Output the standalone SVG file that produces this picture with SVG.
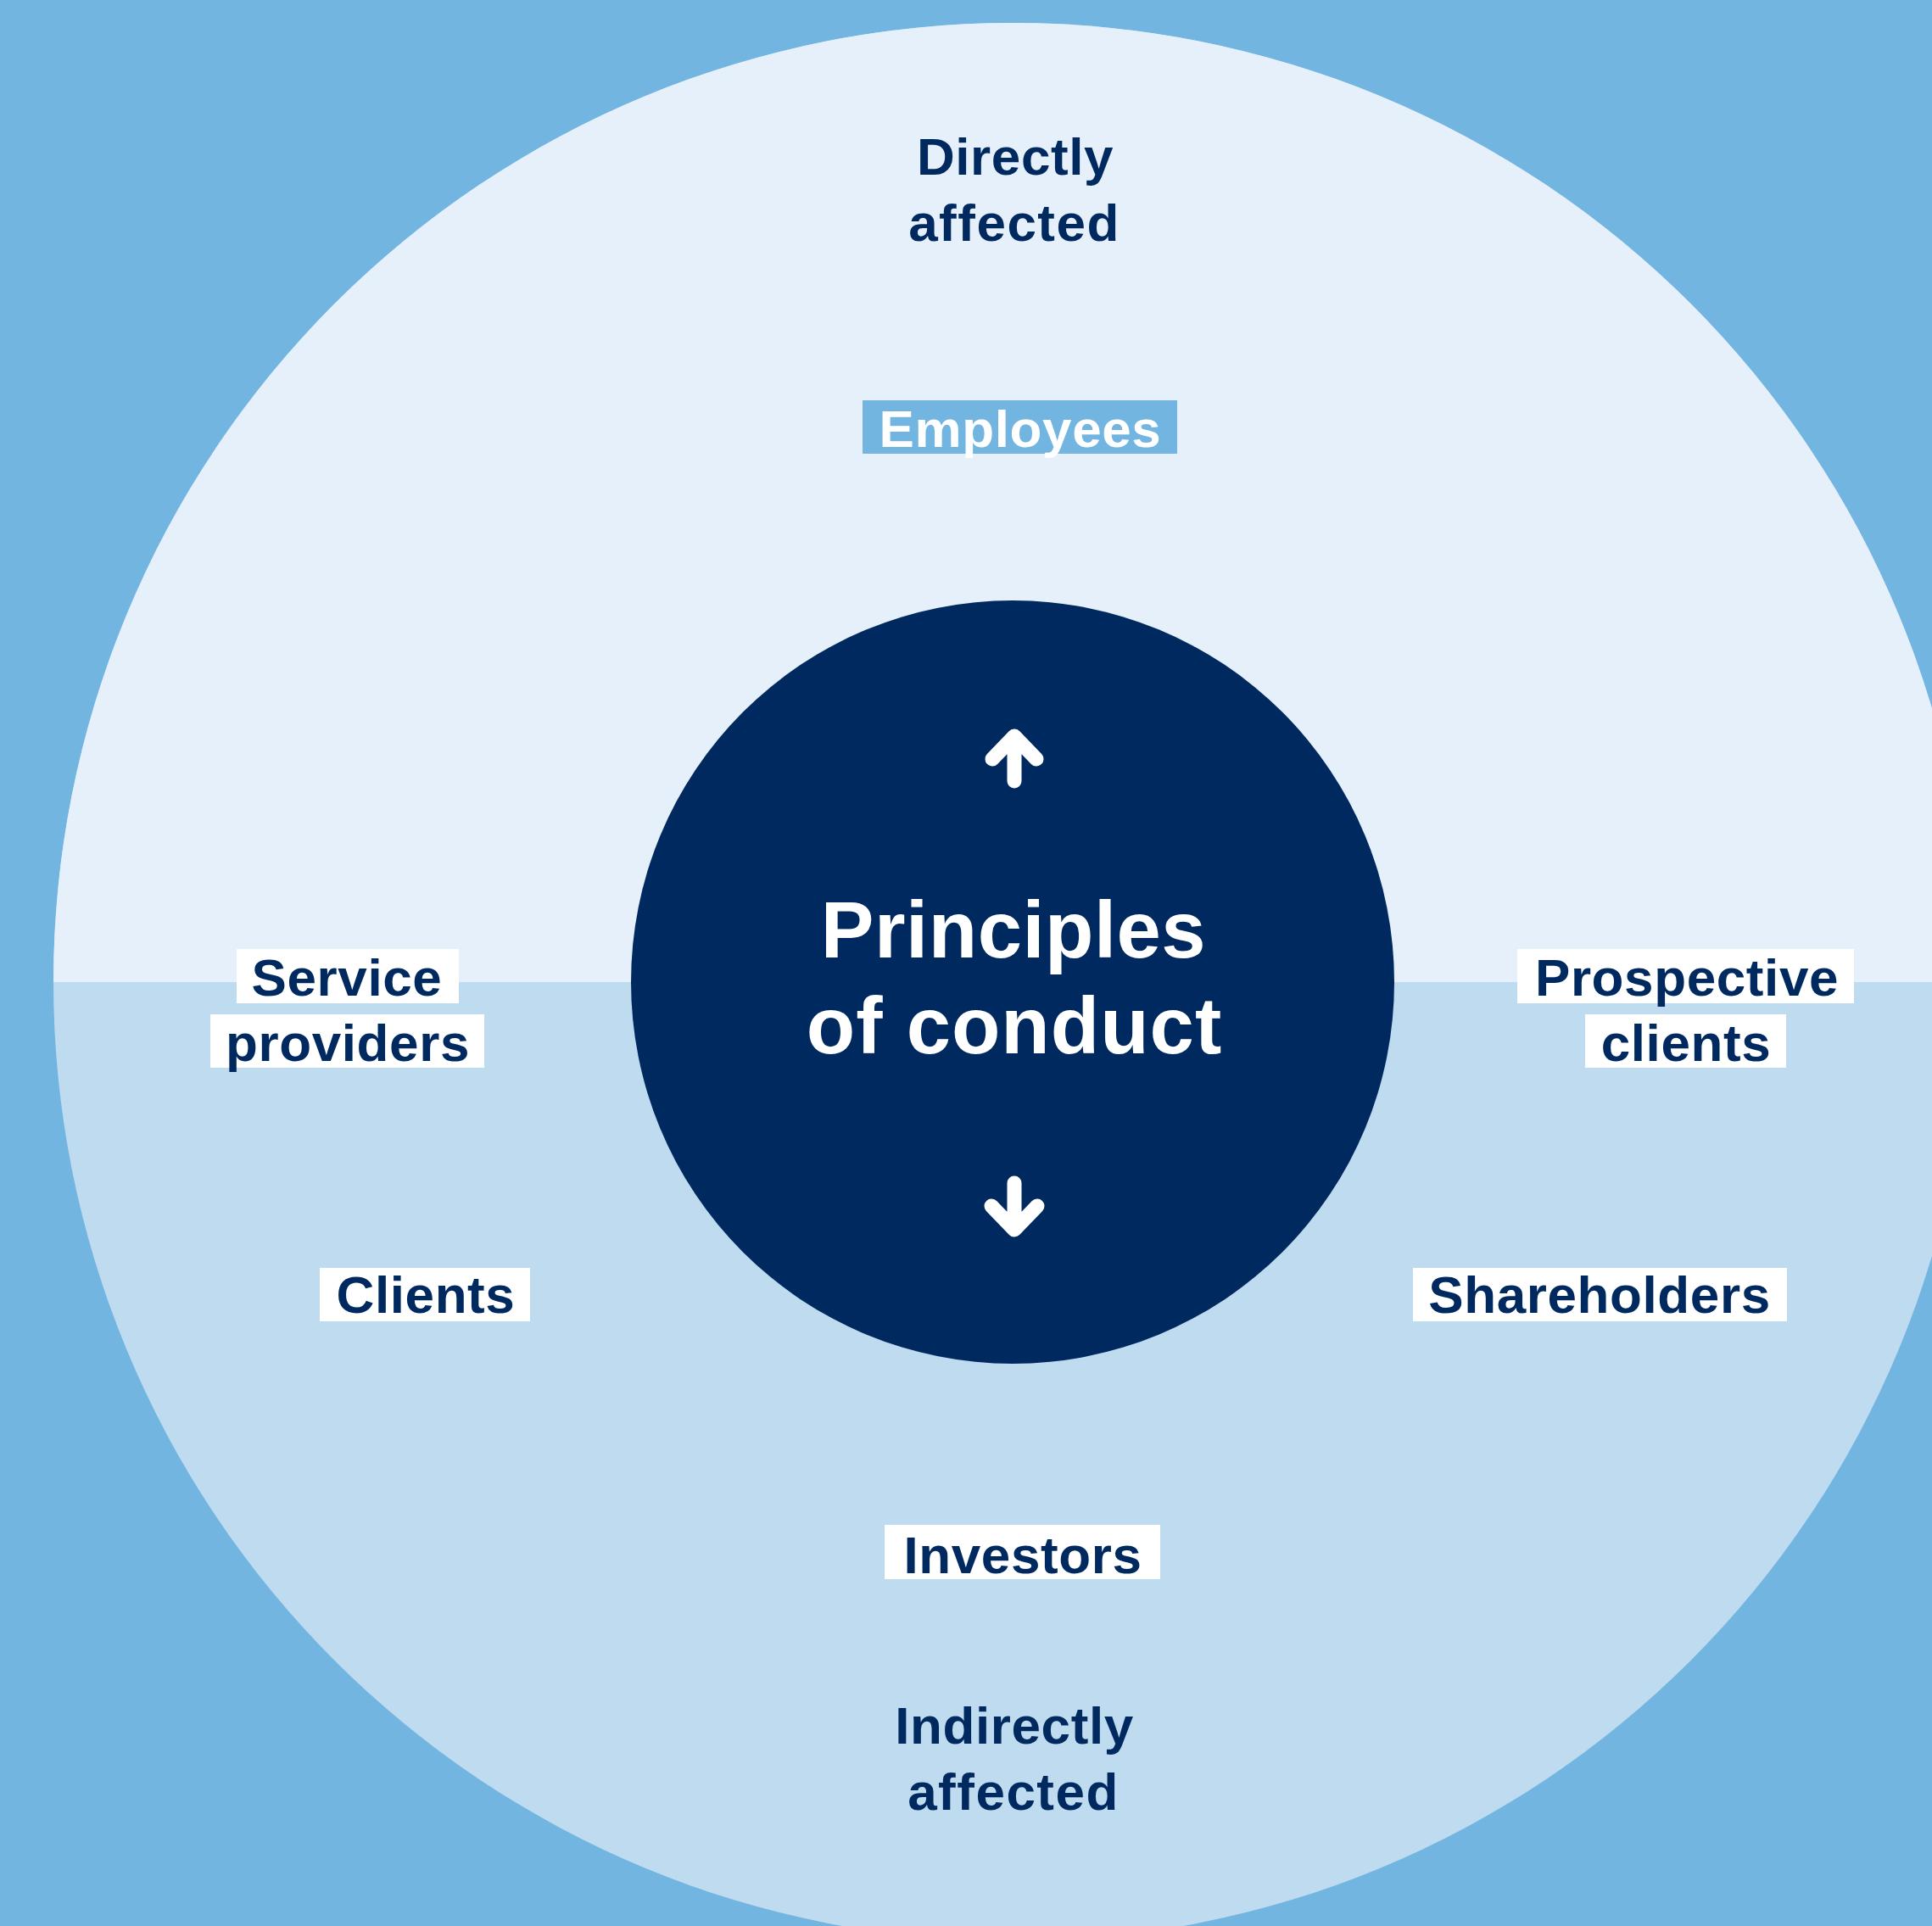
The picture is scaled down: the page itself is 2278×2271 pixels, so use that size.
<svg xmlns="http://www.w3.org/2000/svg" width="2278" height="2271" viewBox="0 0 2278 2271">
<defs>
<style>
.t{font-family:"Liberation Sans",Arial,sans-serif;font-weight:bold;font-size:62px;fill:#00295F;text-anchor:middle;letter-spacing:0.6px}
.w{fill:#FFFFFF}
.box{fill:#FFFFFF}
.arr{fill:none;stroke:#FFFFFF;stroke-width:17;stroke-linecap:round;stroke-linejoin:round}
</style>
<clipPath id="upper"><rect x="0" y="0" width="2278" height="1158"/></clipPath>
</defs>
<rect id="background" x="0" y="0" width="2278" height="2271" fill="#72B5E0"/>
<g id="outer-ring">
<circle cx="1194" cy="1158" r="1131" fill="#BFDBF0"/>
<circle cx="1194" cy="1158" r="1131" fill="#E5F0FA" clip-path="url(#upper)"/>
</g>
<g id="zone-direct">
<text class="t" x="1197" y="206">Directly</text>
<text class="t" x="1196" y="284" style="letter-spacing:1.5px">affected</text>
</g>
<g id="zone-indirect">
<text class="t" x="1196" y="2056">Indirectly</text>
<text class="t" x="1195" y="2134" style="letter-spacing:1.5px">affected</text>
</g>
<g id="employees">
<rect x="1017" y="472" width="371" height="63" fill="#72B5E0"/>
<text class="t w" x="1203" y="527">Employees</text>
</g>
<g id="service-providers">
<rect class="box" x="279" y="1119" width="262" height="64"/>
<rect class="box" x="248" y="1196" width="323" height="63"/>
<text class="t" x="409" y="1174">Service</text>
<text class="t" x="410" y="1251">providers</text>
</g>
<g id="prospective-clients">
<rect class="box" x="1789" y="1119" width="397" height="64"/>
<rect class="box" x="1869" y="1196" width="237" height="63"/>
<text class="t" x="1989" y="1174">Prospective</text>
<text class="t" x="1988" y="1251">clients</text>
</g>
<g id="clients">
<rect class="box" x="377" y="1495" width="248" height="63"/>
<text class="t" x="502" y="1548">Clients</text>
</g>
<g id="shareholders">
<rect class="box" x="1666" y="1495" width="441" height="63"/>
<text class="t" x="1886" y="1548">Shareholders</text>
</g>
<g id="investors">
<rect class="box" x="1043" y="1798" width="325" height="64"/>
<text class="t" x="1206" y="1855">Investors</text>
</g>
<g id="principles">
<circle cx="1194" cy="1158" r="450" fill="#00295F"/>
<text class="t w" x="1195" y="1129" style="font-size:94px;letter-spacing:0.5px">Principles</text>
<text class="t w" x="1196" y="1242" style="font-size:94px;letter-spacing:1px">of conduct</text>
</g>
<g id="connectors">
<path class="arr" d="M1196 921 V868 M1170 895 L1196 868 L1222 895"/>
<path class="arr" d="M1196 1395 V1450 M1169 1422 L1196 1450 L1223 1422"/>
</g>
</svg>
